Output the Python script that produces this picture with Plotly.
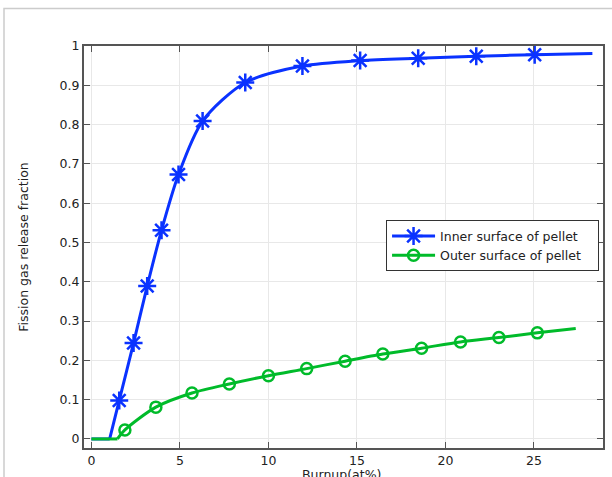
import plotly.graph_objects as go

# ---- data ----
inner_burnup = [1.57, 2.38, 3.15, 3.96, 4.92, 6.28, 8.69, 11.92, 15.18, 18.46, 21.74, 25.04]
inner_frac = [0.098, 0.244, 0.389, 0.531, 0.673, 0.809, 0.907, 0.949, 0.963, 0.969, 0.974, 0.978]
inner_onset = 1.03          # burnup where the inner release starts
inner_end = (28.3, 0.981)   # last point of the inner curve

outer_burnup = [1.89, 3.64, 5.68, 7.79, 10.0, 12.16, 14.33, 16.46, 18.65, 20.85, 23.02, 25.19]
outer_frac = [0.023, 0.081, 0.117, 0.140, 0.161, 0.179, 0.198, 0.216, 0.231, 0.247, 0.258, 0.270]
outer_onset = 1.47
outer_end = (27.36, 0.281)

series_names = ["Inner surface of pellet", "Outer surface of pellet"]
x_ticks = [0, 5, 10, 15, 20, 25]
y_ticks = [0, 0.1, 0.2, 0.3, 0.4, 0.5, 0.6, 0.7, 0.8, 0.9, 1]

BLUE = "#0a32ff"
GREEN = "#00bb2a"
FONT = "DejaVu Sans"
TXT = "#222222"
PAD = "\u00a0" * 3  # right padding inside the legend box

fig = go.Figure()

def add_series(name, onset, bx, by, end, color, symbol, msize):
    fig.add_trace(go.Scatter(x=[0, onset], y=[0, 0], mode="lines",
                             line=dict(color=color, width=3), showlegend=False,
                             hoverinfo="skip"))
    fig.add_trace(go.Scatter(x=[onset] + bx + [end[0]], y=[0] + by + [end[1]],
                             mode="lines", line=dict(color=color, width=3, shape="spline", smoothing=0.8),
                             showlegend=False, hoverinfo="skip"))
    fig.add_trace(go.Scatter(x=bx, y=by, mode="markers", name=name,
                             marker=dict(symbol=symbol, size=msize, color=color,
                                         line=dict(color=color, width=2.5)),
                             showlegend=False))
    fig.add_trace(go.Scatter(x=[None], y=[None], mode="lines+markers", name=name + PAD,
                             line=dict(color=color, width=3),
                             marker=dict(symbol=symbol, size=msize, color=color,
                                         line=dict(color=color, width=2.5))))

add_series(series_names[0], inner_onset, inner_burnup, inner_frac, inner_end,
           BLUE, "asterisk-open", 15)
add_series(series_names[1], outer_onset, outer_burnup, outer_frac, outer_end,
           GREEN, "circle-open", 11)

axis_common = dict(showline=True, linecolor="#555555", linewidth=2, mirror="ticks",
                   ticks="inside", ticklen=6, tickcolor="#555555", tickwidth=1,
                   showgrid=True, gridcolor="#e8e8e8", gridwidth=1, zeroline=False,
                   tickfont=dict(family=FONT, size=12.5, color=TXT))

fig.update_xaxes(range=[-0.42, 28.9], tickvals=x_ticks, ticklabelstandoff=0, **axis_common)
fig.update_yaxes(range=[-0.023, 1.0], tickvals=y_ticks,
                 title=dict(text="Fission gas release fraction",
                            font=dict(family=FONT, size=12.5, color=TXT), standoff=28),
                 **axis_common)

# x-axis title (placed like the reference, at the bottom edge)
fig.add_annotation(text="Burnup(at%)", xref="paper", yref="paper", x=0.497, y=(448.5 - 474.5) / 402,
                   xanchor="center", yanchor="middle", showarrow=False,
                   font=dict(family=FONT, size=12.5, color=TXT))

fig.add_shape(type="rect", xref="paper", yref="paper",
              x0=(4 - 84) / 519, x1=1.2, y0=-0.2, y1=(448.5 - 9) / 402,
              line=dict(color="#cccccc", width=1.5), fillcolor="rgba(0,0,0,0)", layer="below")

fig.update_layout(
    width=612, height=477,
    margin=dict(l=84, r=9, t=46, b=29, autoexpand=False),
    paper_bgcolor="white", plot_bgcolor="white",
    font=dict(family=FONT, size=12, color=TXT),
    legend=dict(x=0.582, y=0.566, xanchor="left", yanchor="top",
                bgcolor="white", bordercolor="#333333", borderwidth=1,
                font=dict(family=FONT, size=12.5, color=TXT),
                itemwidth=43, tracegroupgap=2),
)

fig.write_html("out.html")
